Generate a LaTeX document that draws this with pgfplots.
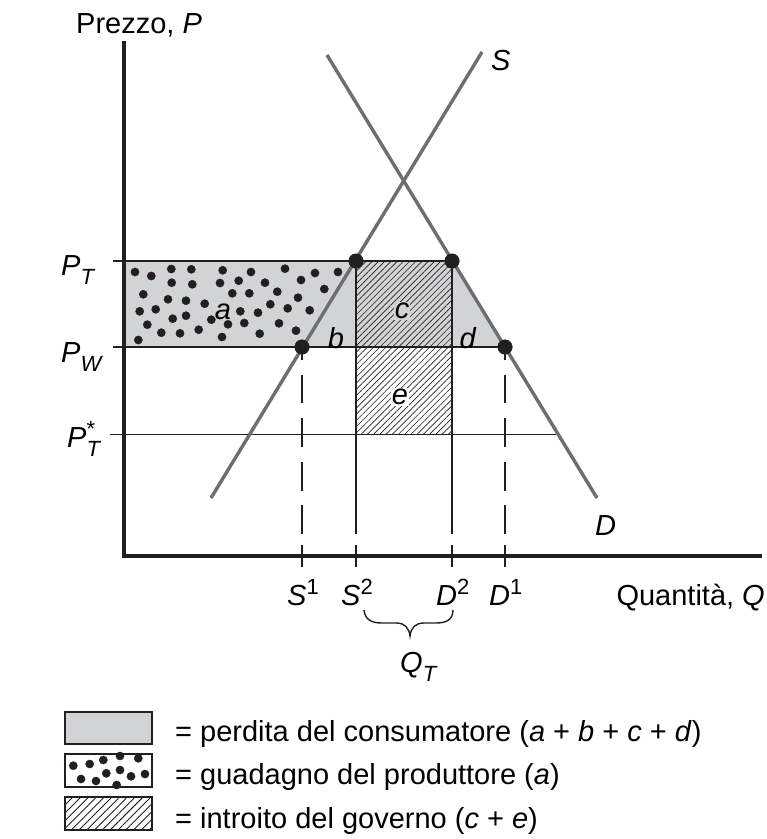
\documentclass[border=0pt]{standalone}
\usepackage{fontspec}
\setmainfont{Liberation Sans}
\usepackage{pgfplots}
\pgfplotsset{compat=1.18}
\usetikzlibrary{patterns.meta}
\definecolor{fillgray}{RGB}{209,211,212}
\definecolor{curve}{RGB}{109,110,113}
\definecolor{ink}{RGB}{35,31,32}
\newcommand{\lab}{\fontsize{29}{32}\selectfont}
\newcommand{\sm}[1]{{\fontsize{22}{24}\selectfont #1}}
\newcommand{\low}[1]{\raisebox{-9pt}{\sm{\textit{#1}}}}
\newcommand{\up}[1]{\raisebox{11pt}{\sm{#1}}}

\begin{document}
\begin{tikzpicture}
\begin{axis}[
  scale only axis, width=767pt, height=839pt,
  xmin=0, xmax=767, ymin=0, ymax=839, y dir=reverse,
  axis lines=none, clip=false,
  every node/.append style={text=ink},
]
% keeps the page at the full size of the reference
\path (axis cs:0,0) rectangle (axis cs:767,839);

% shaded areas
\addplot[fill=fillgray, draw=none] coordinates {(124,261) (452,261) (505,347) (124,347)} -- cycle;
\addplot[pattern={Lines[angle=45,distance=4.4pt,line width=.65pt]}, pattern color=ink, draw=none]
  coordinates {(356,261) (452,261) (452,434) (356,434)} -- cycle;

% dots of area a
\addplot[only marks, mark=*, mark size=4.1pt, ink] coordinates {
  (135,272) (151.3,276) (171.3,269) (191.3,269.3) (222.7,270.3) (251,272)
  (285,268.7) (315,273) (338,272) (171.7,282.7) (192.3,284.3) (220,283)
  (238.7,280.7) (265,282.7) (301,280) (143.3,294.3) (232.3,293.3) (249.3,293.3)
  (277.3,291.7) (324.3,289) (168,299.3) (186,300.7) (204.7,303.7) (298,297.7)
  (270.3,304.3) (139.7,311.3) (155.7,309.3) (186,315.7) (172.7,318.7) (240.3,311.3)
  (258,312.7) (287.7,308.3) (309.7,310.3) (211.3,319.7) (228,324.3) (244.3,323)
  (147.3,324.7) (279,323.3) (296,330.7) (161.3,332.7) (180,333.3) (198.7,329.7)
  (259.7,333.7) (138.3,340) (222,337)
};

% price lines
\addplot[ink, line width=1.5pt] coordinates {(113,261) (452,261)};
\addplot[ink, line width=1.5pt] coordinates {(113,347) (505,347)};
\addplot[ink, line width=1.5pt] coordinates {(110,434.5) (556,434.5)};

% quantity lines
\addplot[ink, line width=1.5pt] coordinates {(356,261) (356,534)};
\addplot[ink, line width=1.5pt] coordinates {(452,261) (452,534)};
\addplot[ink, line width=1.5pt] coordinates {(356,545) (356,567)};
\addplot[ink, line width=1.5pt] coordinates {(452,545) (452,567)};
\pgfplotsinvokeforeach{302,505}{
  \addplot[ink, line width=1.5pt] coordinates {(#1,347) (#1,360)};
  \addplot[ink, line width=1.5pt] coordinates {(#1,375) (#1,403)};
  \addplot[ink, line width=1.5pt] coordinates {(#1,418) (#1,447)};
  \addplot[ink, line width=1.5pt] coordinates {(#1,462) (#1,491)};
  \addplot[ink, line width=1.5pt] coordinates {(#1,505) (#1,534)};
  \addplot[ink, line width=1.5pt] coordinates {(#1,545) (#1,567)};
}

% supply and demand
\addplot[curve, line width=3.4pt] coordinates {(211,498) (482,52)};
\addplot[curve, line width=3.4pt] coordinates {(327,55) (597,498)};

% axes
\addplot[ink, line width=3.4pt] coordinates {(124,41) (124,557.7)};
\addplot[ink, line width=3.4pt] coordinates {(122.3,556) (762,556)};

% intersections
\addplot[only marks, mark=*, mark size=7.3pt, ink] coordinates {(356,261) (452,261) (302,347) (505,347)};

% labels
\node[anchor=base west, inner sep=0pt] at (axis cs:76,33) {\lab Prezzo, \textit{P}};
\node[anchor=base west, inner sep=0pt] at (axis cs:491,70) {\lab\textit{S}};
\node[anchor=base west, inner sep=0pt] at (axis cs:595,535) {\lab\textit{D}};
\node[anchor=base east, inner sep=0pt] at (axis cs:765,605) {\lab Quantità, \textit{Q}};
\node[anchor=base west, inner sep=0pt] at (axis cs:61,275) {\lab\textit{P}\low{T}};
\node[anchor=base west, inner sep=0pt] at (axis cs:61,362) {\lab\textit{P}\low{W}};
\node[anchor=base west, inner sep=0pt] at (axis cs:67,447) {\lab\textit{P}\rlap{\low{T}}\up{*}};
\node[anchor=base west, inner sep=0pt] at (axis cs:287,605) {\lab\textit{S}\up{1}};
\node[anchor=base west, inner sep=0pt] at (axis cs:341,605) {\lab\textit{S}\up{2}};
\node[anchor=base west, inner sep=0pt] at (axis cs:436,605) {\lab\textit{D}\up{2}};
\node[anchor=base west, inner sep=0pt] at (axis cs:489,605) {\lab\textit{D}\up{1}};
\node[anchor=base west, inner sep=0pt] at (axis cs:400,672) {\lab\textit{Q}\low{T}};
\node[inner sep=0pt] at (axis cs:223,312) {\lab\textit{a}};
\node[inner sep=0pt] at (axis cs:336,338) {\lab\textit{b}};
\node[inner sep=1pt, fill=fillgray] at (axis cs:402,311) {\lab\textit{c}};
\node[inner sep=0pt] at (axis cs:468,338) {\lab\textit{d}};
\node[inner sep=1pt, fill=white] at (axis cs:400,397) {\lab\textit{e}};

% brace
\draw[ink, line width=1.4pt] (axis cs:364,610) .. controls (365,620) and (372,623) .. (382,623)
  -- (396,623) .. controls (405,623) and (409,628) .. (410,636)
  .. controls (411,628) and (415,623) .. (424,623)
  -- (436,623) .. controls (446,623) and (453,620) .. (453,610);

% key
\addplot[fill=fillgray, draw=ink, line width=1.5pt] coordinates {(65,712) (152,712) (152,744) (65,744)} -- cycle;
\addplot[only marks, mark=*, mark size=4.1pt, ink] coordinates {
  (73.3,765.7) (89.7,764) (103.3,760) (120,756) (138.3,758.3) (81,779) (96,781)
  (106.3,773.3) (120,770) (131,776.3) (145,774) (116.7,785)
};
\addplot[fill=white, draw=none] coordinates {(100,748) (150,748) (150,754) (100,754)} -- cycle;
\addplot[fill=white, draw=none] coordinates {(100,787) (150,787) (150,793) (100,793)} -- cycle;
\addplot[draw=ink, line width=1.5pt] coordinates {(65,754) (152,754) (152,787) (65,787)} -- cycle;
\addplot[pattern={Lines[angle=45,distance=5.5pt,line width=.9pt]}, pattern color=ink, draw=ink, line width=1.5pt]
  coordinates {(65,797) (152,797) (152,830) (65,830)} -- cycle;
\node[anchor=base west, inner sep=0pt] at (axis cs:175,741) {\lab = perdita del consumatore (\textit{a} + \textit{b} + \textit{c} + \textit{d})};
\node[anchor=base west, inner sep=0pt] at (axis cs:175,784) {\lab = guadagno del produttore (\textit{a})};
\node[anchor=base west, inner sep=0pt] at (axis cs:175,828) {\lab = introito del governo (\textit{c} + \textit{e})};
\end{axis}
\end{tikzpicture}
\end{document}
